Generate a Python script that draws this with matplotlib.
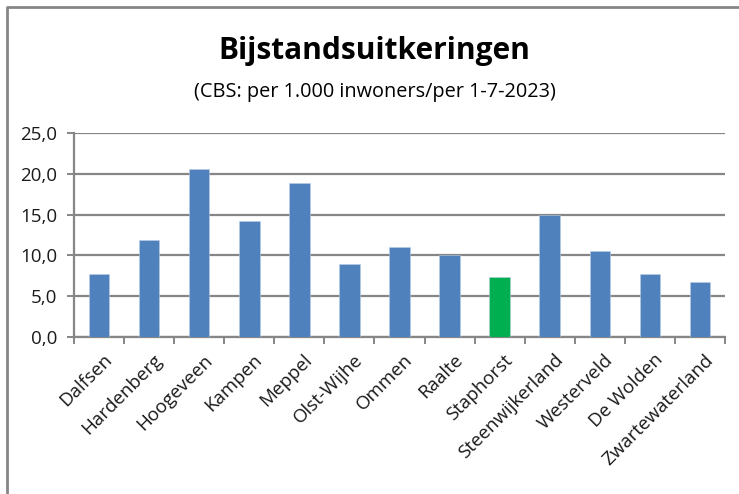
"""Bar chart of social assistance benefits per 1,000 inhabitants by municipality."""

import matplotlib

matplotlib.use("Agg")
import matplotlib.pyplot as plt
from matplotlib.lines import Line2D
from matplotlib.ticker import FixedLocator, FuncFormatter
from matplotlib.transforms import ScaledTranslation

gemeenten = [
    "Dalfsen", "Hardenberg", "Hoogeveen", "Kampen", "Meppel", "Olst-Wijhe",
    "Ommen", "Raalte", "Staphorst", "Steenwijkerland", "Westerveld",
    "De Wolden", "Zwartewaterland",
]
per_1000 = [7.7, 11.9, 20.6, 14.2, 18.9, 9.0, 11.0, 10.1, 7.3, 15.0, 10.5, 7.7, 6.7]
highlight = "Staphorst"
y_ticks = [0, 5, 10, 15, 20, 25]

BLUE = "#4F81BD"
GREEN = "#00B050"
GRID = "#868686"

plt.rcParams["font.family"] = ["Open Sans", "DejaVu Sans"]

fig = plt.figure(figsize=(7.39, 4.94), dpi=100)
ax = fig.add_axes([74 / 739, 1 - 337 / 494, (725 - 74) / 739, (337 - 133) / 494])

colors = [GREEN if g == highlight else BLUE for g in gemeenten]
x = list(range(len(gemeenten)))
ax.bar(x, per_1000, width=0.41, color=colors, edgecolor="#b9cde5", linewidth=0.4, zorder=3)

ax.set_xlim(-0.5, len(gemeenten) - 0.5)
ax.set_ylim(0, 25)
ax.yaxis.set_major_locator(FixedLocator(y_ticks))
ax.yaxis.set_major_formatter(FuncFormatter(lambda v, _: f"{v:.1f}".replace(".", ",")))
ax.grid(axis="y", color=GRID, linewidth=1.6, zorder=0)

# category boundary ticks, labels centred under the bars
ax.set_xticks([i - 0.5 for i in range(len(gemeenten) + 1)])
ax.set_xticklabels([])
ax.set_xticks(x, minor=True)
ax.set_xticklabels(gemeenten, minor=True, rotation=45, ha="right", va="top",
                   rotation_mode="anchor", fontsize=13.5, color="#1a1a1a")
ax.tick_params(axis="x", which="minor", length=0, pad=10)
ax.tick_params(axis="x", which="major", length=5, width=1.4, color=GRID)
ax.tick_params(axis="y", length=5, width=1.4, color=GRID, labelsize=13.5,
               labelcolor="#1a1a1a", pad=7)

shift = ScaledTranslation(4 / 100, 0, fig.dpi_scale_trans)
for lbl in ax.get_xticklabels(minor=True):
    lbl.set_transform(lbl.get_transform() + shift)

for side in ("top", "right"):
    ax.spines[side].set_visible(False)
for side in ("left", "bottom"):
    ax.spines[side].set_color(GRID)
    ax.spines[side].set_linewidth(1.6)

fig.text(0.507, 1 - 51 / 494, "Bijstandsuitkeringen", ha="center", va="center",
         fontsize=21.5, fontweight="bold", color="#000000")
fig.text(0.507, 1 - 92 / 494, "(CBS: per 1.000 inwoners/per 1-7-2023)",
         ha="center", va="center", fontsize=14.3, color="#000000")

# outer chart frame (only top and left edges fall inside the image)
fig.add_artist(Line2D([6.5 / 739, 6.5 / 739, 1.0], [0.0, 1 - 7 / 494, 1 - 7 / 494],
                      transform=fig.transFigure, color=GRID, linewidth=2))

fig.savefig("out.png", dpi=100)
